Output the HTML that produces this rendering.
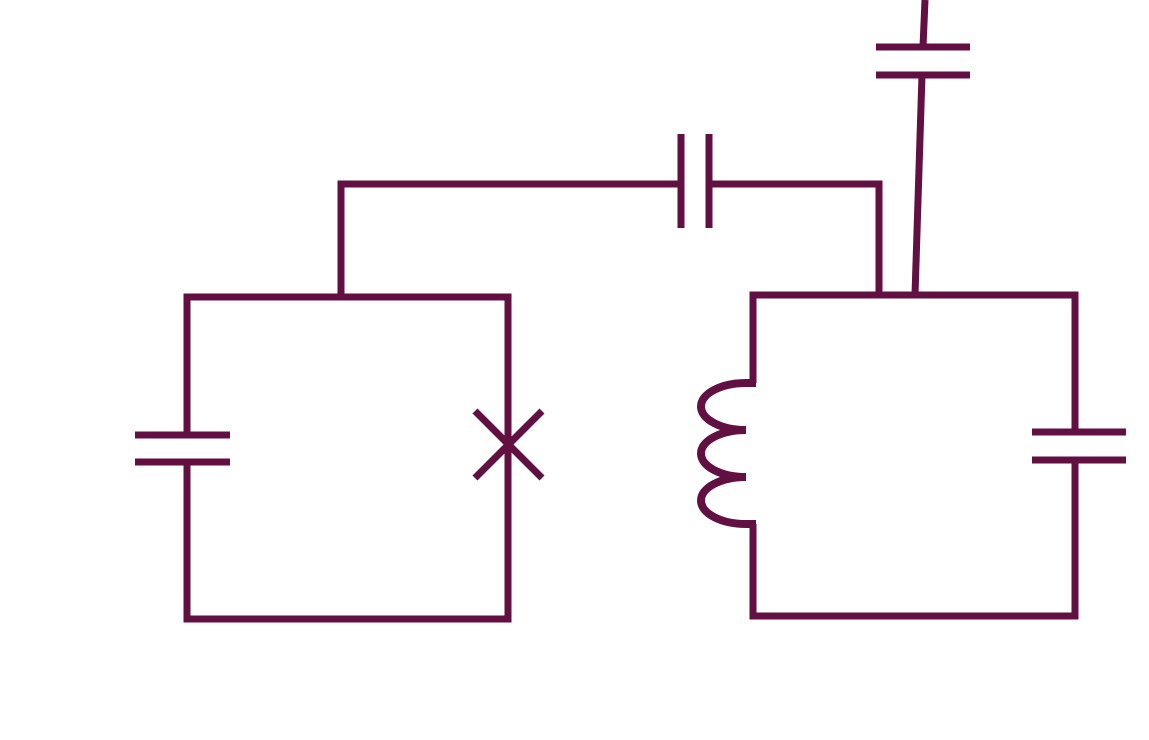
<!DOCTYPE html>
<html><head><meta charset="utf-8"><style>html,body{margin:0;padding:0;background:#fff}svg{display:block}</style></head>
<body>
<svg width="1149" height="740" viewBox="0 0 1149 740" fill="none" stroke="#620f42" stroke-width="7">
<g>
<polyline points="187,435 187,297 508,297 508,619 187,619 187,462"/>
<line x1="135" y1="435" x2="230" y2="435"/>
<line x1="135" y1="462" x2="230" y2="462"/>
<line x1="475" y1="411" x2="542" y2="478"/>
<line x1="475" y1="478" x2="542" y2="411"/>
</g>
<g>
<polyline points="341,297 341,184 681,184"/>
<line x1="681" y1="134" x2="681" y2="228"/>
<line x1="709" y1="134" x2="709" y2="228"/>
<polyline points="709,184 879,184 879,295"/>
</g>
<g>
<polyline points="753,383 753,295 1075,295 1075,432"/>
<polyline points="1075,460 1075,616 753,616 753,524"/>
<line x1="1032" y1="432" x2="1126" y2="432"/>
<line x1="1032" y1="460" x2="1126" y2="460"/>
<path d="M756,383 L746,383 A45,23.5 0 0 0 746,430 A45,23.5 0 0 0 746,477 A45,23.5 0 0 0 746,524 L756,524" stroke-width="8"/>
</g>
<g>
<line x1="915" y1="295" x2="922" y2="75"/>
<line x1="876" y1="75" x2="970" y2="75"/>
<line x1="876" y1="47" x2="970" y2="47"/>
<line x1="923" y1="47" x2="925" y2="0"/>
</g>
</svg>
</body></html>
